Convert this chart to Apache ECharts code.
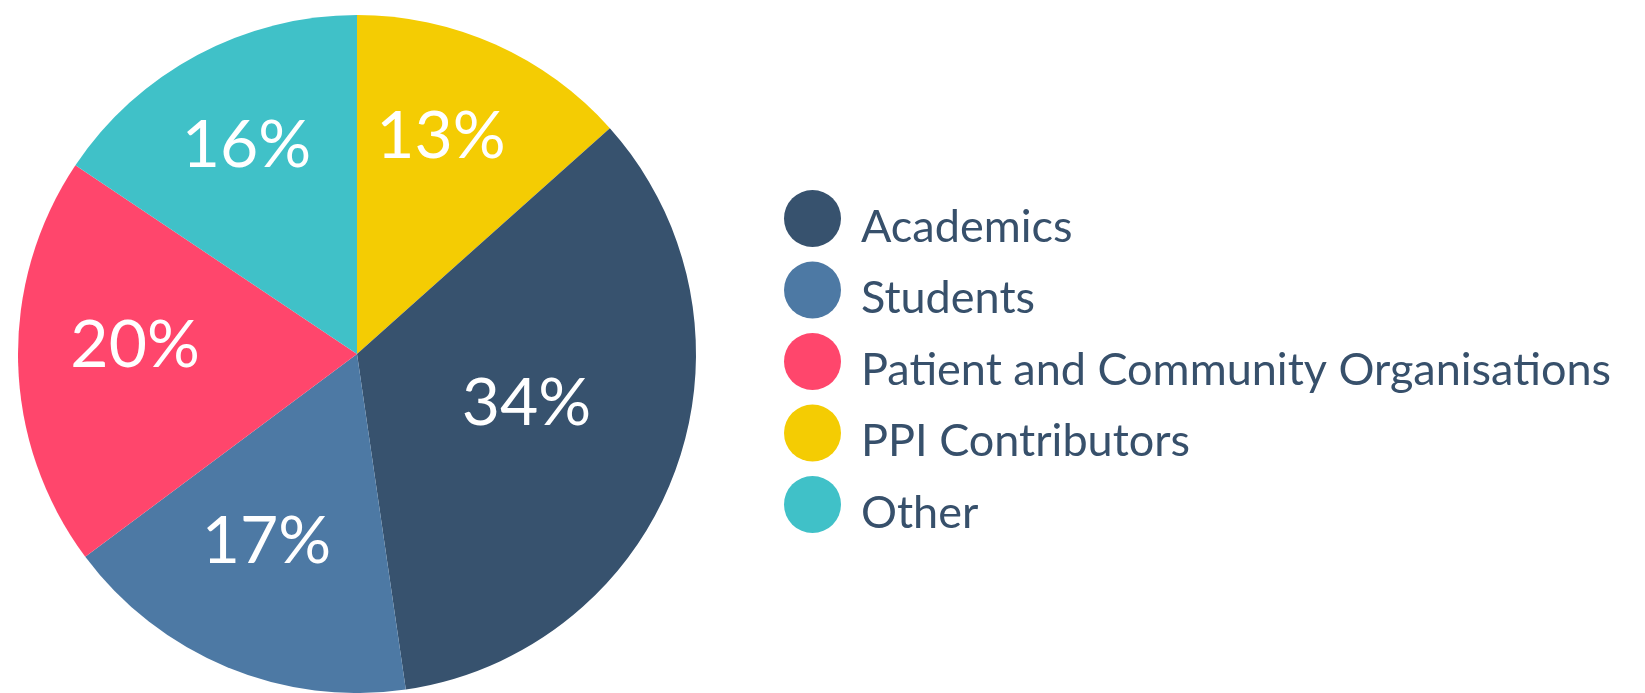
<!DOCTYPE html>
<html>
<head>
<meta charset="utf-8">
<script src="https://cdn.jsdelivr.net/npm/echarts@6/dist/echarts.min.js"></script>
<style>
  html, body { margin: 0; padding: 0; background: #fff; }
  #chart { width: 1645px; height: 693px; }
</style>
</head>
<body>
<div id="chart"></div>
<script>
// slices clockwise from 12 o'clock
const categories = ["PPI Contributors", "Academics", "Students", "Patient and Community Organisations", "Other"];
const shares = [13.4, 34.3, 17.1, 19.6, 15.6];
const sliceColors = ["#f4cc03", "#37526e", "#4d79a4", "#ff466c", "#40c1c8"];
const legendOrder = ["Academics", "Students", "Patient and Community Organisations", "PPI Contributors", "Other"];

const pieRadius = 339;
const startAngle = 90;

// the percentages sit on each slice's centroid, not at half radius
const total = shares.reduce(function (a, b) { return a + b; }, 0);
function centroidShift(idx) {
  let before = 0;
  for (let i = 0; i < idx; i++) before += shares[i];
  let span = (shares[idx] / total) * 2 * Math.PI;
  let mid = (startAngle * Math.PI) / 180 - (before / total) * 2 * Math.PI - span / 2;
  let dist = (4 * pieRadius * Math.sin(span / 2)) / (3 * span);
  let shift = dist - pieRadius / 2;
  return { dx: shift * Math.cos(mid), dy: -shift * Math.sin(mid) };
}

const pieData = categories.map(function (name, i) {
  return { name: name, value: shares[i], itemStyle: { color: sliceColors[i] } };
});

const myChart = echarts.init(document.getElementById("chart"));
myChart.setOption({
  animation: false,
  legend: {
    orient: "vertical",
    left: 779,
    top: 185,
    icon: "circle",
    itemWidth: 57,
    itemHeight: 57,
    itemGap: 12,
    selectedMode: false,
    data: legendOrder,
    formatter: "{t|{name}}",
    textStyle: {
      rich: {
        t: {
          fontFamily: "Lato",
          fontSize: 45,
          color: "#37506b",
          padding: [17, 0, 0, 15],
        },
      },
    },
  },
  series: [
    {
      type: "pie",
      center: [357, 354],
      radius: [0, pieRadius],
      startAngle: startAngle,
      clockwise: true,
      silent: true,
      label: {
        show: true,
        position: "inside",
        formatter: function (p) {
          return "{p|" + Math.round(p.percent) + "%}";
        },
        rich: {
          p: {
            fontFamily: "Lato",
            fontSize: 66,
            color: "#ffffff",
            padding: [0, 14, 28, 0],
          },
        },
      },
      labelLine: { show: false },
      labelLayout: function (params) {
        return centroidShift(params.dataIndex);
      },
      data: pieData,
    },
  ],
});
</script>
</body>
</html>
